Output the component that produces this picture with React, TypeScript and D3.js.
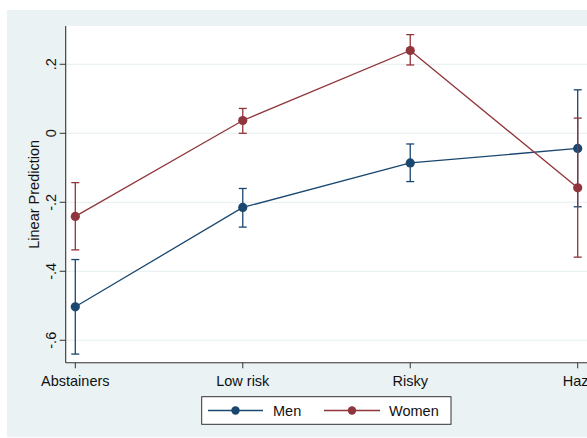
import React from "react";
import * as d3 from "d3";

const categories = ["Abstainers", "Low risk", "Risky", "Hazardous"];
const menValues = [-0.503, -0.215, -0.086, -0.044];
const menLower = [-0.640, -0.272, -0.140, -0.213];
const menUpper = [-0.366, -0.160, -0.031, 0.126];
const womenValues = [-0.241, 0.037, 0.240, -0.158];
const womenLower = [-0.338, 0.0, 0.198, -0.359];
const womenUpper = [-0.143, 0.072, 0.286, 0.044];
const yTicks = [0.2, 0, -0.2, -0.4, -0.6];
const yTickLabels = [".2", "0", "-.2", "-.4", "-.6"];

const W = 587;
const H = 438;
const plotLeft = 65.7;
const plotTop = 26;
const plotBottom = 362.7;
const font = "'Liberation Sans', Arial, sans-serif";
const NAVY = "#1a476f";
const MAROON = "#90353b";
const BG = "#eaf2f3";

export default function App() {
  const y = d3.scaleLinear().domain([-0.665, 0.311]).range([plotBottom, plotTop]);
  const x = d3.scalePoint<string>().domain(categories).range([75.3, 577.7]);

  const series = [
    { name: "Men", color: NAVY, v: menValues, lo: menLower, hi: menUpper },
    { name: "Women", color: MAROON, v: womenValues, lo: womenLower, hi: womenUpper },
  ];

  const line = d3
    .line<number>()
    .x((_, i) => x(categories[i]) as number)
    .y((d) => y(d));

  return (
    <svg
      width={W}
      height={H}
      style={{ position: "absolute", left: 0, top: 0 }}
      fontFamily={font}
    >
      <rect x={0} y={0} width={W} height={H} fill="#ffffff" />
      <rect x={7} y={10} width={W - 7} height={427.3} fill={BG} />
      <rect x={plotLeft} y={plotTop} width={W - plotLeft} height={plotBottom - plotTop} fill="#ffffff" />

      {yTicks.map((t) => (
        <line key={"g" + t} x1={plotLeft} x2={W} y1={y(t)} y2={y(t)} stroke={BG} strokeWidth={1.2} />
      ))}

      {/* axes */}
      <line x1={plotLeft} x2={plotLeft} y1={plotTop} y2={plotBottom} stroke="#333" strokeWidth={1.1} />
      <line x1={plotLeft} x2={W} y1={plotBottom} y2={plotBottom} stroke="#333" strokeWidth={1.1} />

      {yTicks.map((t, i) => (
        <g key={"t" + t}>
          <line x1={plotLeft - 6} x2={plotLeft} y1={y(t)} y2={y(t)} stroke="#333" strokeWidth={1} />
          <text
            transform={`translate(56,${y(t)}) rotate(-90)`}
            textAnchor="middle"
            fontSize={14.5}
            fill="#111"
          >
            {yTickLabels[i]}
          </text>
        </g>
      ))}

      <text
        transform={`translate(38.5,${(plotTop + plotBottom) / 2}) rotate(-90)`}
        textAnchor="middle"
        fontSize={14.5}
        fill="#111"
      >
        Linear Prediction
      </text>

      {categories.map((c, i) => {
        const last = i === categories.length - 1;
        return (
          <g key={c}>
            <line x1={x(c)} x2={x(c)} y1={plotBottom} y2={plotBottom + 5.6} stroke="#333" strokeWidth={1} />
            <text
              x={last ? (x(c) as number) - 15 : x(c)}
              y={386}
              textAnchor={last ? "start" : "middle"}
              fontSize={14.5}
              fill="#111"
            >
              {c}
            </text>
          </g>
        );
      })}

      {series.map((s) => (
        <g key={s.name}>
          {categories.map((c, i) => {
            const cx = x(c) as number;
            return (
              <g key={c} stroke={s.color} strokeWidth={1.3}>
                <line x1={cx} x2={cx} y1={y(s.lo[i])} y2={y(s.hi[i])} />
                <line x1={cx - 4} x2={cx + 4} y1={y(s.lo[i])} y2={y(s.lo[i])} />
                <line x1={cx - 4} x2={cx + 4} y1={y(s.hi[i])} y2={y(s.hi[i])} />
              </g>
            );
          })}
          <path d={line(s.v) || ""} fill="none" stroke={s.color} strokeWidth={1.3} />
          {s.v.map((v, i) => (
            <circle key={i} cx={x(categories[i])} cy={y(v)} r={4.6} fill={s.color} />
          ))}
        </g>
      ))}

      {/* legend */}
      <rect x={201.7} y={396.7} width={249.3} height={27.6} fill="#ffffff" stroke="#333" strokeWidth={1} />
      {[
        { name: "Men", color: NAVY, x1: 208, x2: 263, tx: 273 },
        { name: "Women", color: MAROON, x1: 324, x2: 380, tx: 389 },
      ].map((l) => (
        <g key={l.name}>
          <line x1={l.x1} x2={l.x2} y1={410.5} y2={410.5} stroke={l.color} strokeWidth={1.3} />
          <circle cx={(l.x1 + l.x2) / 2} cy={410.5} r={4.2} fill={l.color} />
          <text x={l.tx} y={416} fontSize={14.5} fill="#111">
            {l.name}
          </text>
        </g>
      ))}
    </svg>
  );
}
